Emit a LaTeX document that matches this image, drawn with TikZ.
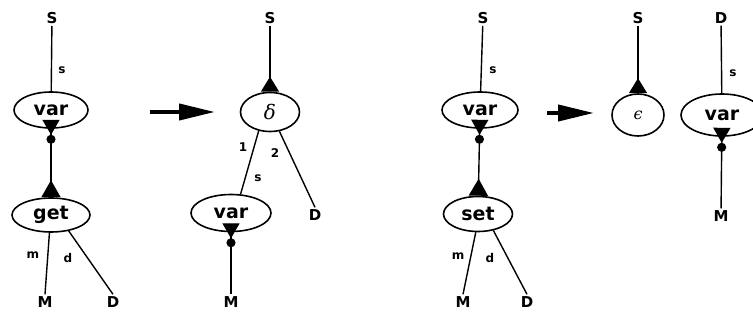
\documentclass[tikz,border=0pt]{standalone}
\usepackage{fontspec}
\setmainfont{DejaVu Sans}
\newfontfamily\grkfont{DejaVu Serif}
\usetikzlibrary{arrows.meta,shapes.geometric}
\tikzset{
  op/.style={draw, ellipse, line width=1.6pt, inner sep=0pt, minimum width=74pt, minimum height=36pt, font=\fontsize{19}{19}\selectfont\bfseries},
  pt/.style={font=\fontsize{15}{15}\selectfont\bfseries, inner sep=2pt},
  lab/.style={font=\fontsize{12}{12}\selectfont\bfseries, inner sep=1pt},
  wire/.style={line width=1.4pt},
  portout/.style={{Triangle[reversed,width=17pt,length=15pt,sep=-9pt]Circle[length=9pt]}-},
  portin/.style={-{Triangle[reversed,width=18pt,length=15pt]}},
  link/.style={{Triangle[reversed,width=17pt,length=15pt,sep=-9pt]Circle[length=9pt]}-{Triangle[reversed,width=19pt,length=17pt]}},
  bigarrow/.style={line width=4pt,-{Triangle[width=16pt,length=36pt]}}
}
\begin{document}
\begin{tikzpicture}[x=1pt,y=-1pt]
  \useasboundingbox (0,0) rectangle (753,320);
  % get rule, left side
  \node[pt] (s1) at (52,18) {S};
  \node[op] (var1) at (51,110) {var};
  \node[op, minimum width=78pt, minimum height=34pt] (get1) at (51,215) {get};
  \node[pt] (m1) at (45,302) {M};
  \node[pt] (d1) at (113,302) {D};
  \draw[wire] (s1) -- (var1);
  \node[lab] (s1lab) at (62,70) {s};
  \draw[wire, link] (var1) -- (get1);
  \draw[wire] (get1.-95) -- (m1.north);
  \draw[wire] (get1.-42) -- (d1.north);
  \node[lab] (m1lab) at (33,255) {m};
  \node[lab] (d1lab) at (68,258) {d};
  \coordinate (a1) at (150,112);
  \coordinate (a1e) at (215,112);
  \draw[bigarrow] (a1) -- (a1e);
  % get rule, right side
  \node[pt] (s2) at (270,18) {S};
  \node[op, minimum width=59pt, minimum height=39pt, font=\fontsize{20}{20}\grkfont\itshape] (delta) at (270,112) {δ};
  \node[op, minimum width=80pt, minimum height=37pt] (var2) at (231,213) {var};
  \node[pt] (d2) at (315,215) {D};
  \node[pt] (m2) at (231,302) {M};
  \draw[wire, portin] (s2) -- (delta);
  \draw[wire] (delta.-121) -- (var2.63);
  \draw[wire] (delta.-64) -- (d2.north);
  \draw[wire, portout] (var2) -- (m2);
  \node[lab] (one) at (243,147) {1};
  \node[lab] (two) at (275,153) {2};
  \node[lab] (s2lab) at (258,178) {s};
  % set rule, left side
  \node[pt] (s3) at (483,18) {S};
  \node[op, minimum width=76pt] (var3) at (480,110) {var};
  \node[op, minimum width=69pt, minimum height=35pt] (set3) at (478,214) {set};
  \node[pt] (m3) at (463,302) {M};
  \node[pt] (d3) at (527,302) {D};
  \draw[wire] (s3) -- (var3);
  \node[lab] (s3lab) at (493,70) {s};
  \draw[wire, link] (var3) -- (set3);
  \draw[wire] (set3.-97) -- (m3.north);
  \draw[wire] (set3.-47) -- (d3.north);
  \node[lab] (m3lab) at (458,256) {m};
  \node[lab] (d3lab) at (490,258) {d};
  \coordinate (a2) at (547,113);
  \coordinate (a2e) at (594,113);
  \draw[bigarrow] (a2) -- (a2e);
  % set rule, right side
  \node[pt] (s4) at (638,18) {S};
  \node[op, minimum width=52pt, minimum height=42pt, font=\fontsize{16}{16}\grkfont\itshape] (eps) at (638,115) {ϵ};
  \node[pt] (d4) at (721,18) {D};
  \node[op, minimum width=82pt, minimum height=42pt] (var4) at (722,115) {var};
  \node[pt] (m4) at (721,216) {M};
  \draw[wire, portin] (s4) -- (eps);
  \draw[wire] (d4) -- (var4);
  \node[lab] (s4lab) at (733,73) {s};
  \draw[wire, portout] (var4) -- (m4);
\end{tikzpicture}
\end{document}
